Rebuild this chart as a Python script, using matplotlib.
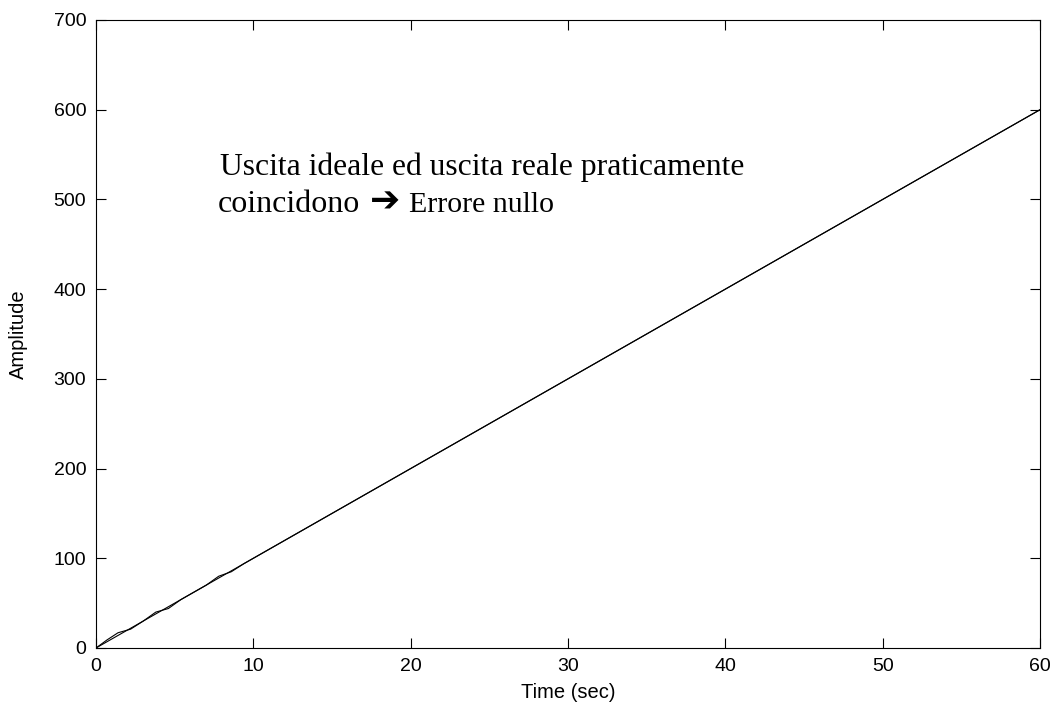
import matplotlib
matplotlib.use("Agg")
import matplotlib.pyplot as plt

# Data
ideal_t = [0, 60]
ideal_y = [0, 600]
real_t = [0, 0.7, 1.4, 2.2, 3.0, 3.8, 4.6, 5.4, 6.2, 7.0, 7.8, 8.6, 9.4, 10.2,
          12, 14, 16, 18, 20, 25, 30, 35, 40, 45, 50, 55, 60]
real_y = [0, 9, 17, 21, 30, 40, 44, 54, 62, 70, 80, 85, 94, 102,
          120, 140, 160, 180, 200, 250, 300, 350, 400, 450, 500, 550, 600]
xticks = [0, 10, 20, 30, 40, 50, 60]
yticks = [0, 100, 200, 300, 400, 500, 600, 700]

fig = plt.figure(figsize=(10.55, 7.11), dpi=100)
ax = fig.add_axes([96/1055, 1-648/711, (1040-96)/1055, (648-20)/711])
ax.plot(ideal_t, ideal_y, color='black', lw=0.8)
ax.plot(real_t, real_y, color='black', lw=0.8)
ax.set_xlim(0, 60)
ax.set_ylim(0, 700)
ax.set_xticks(xticks)
ax.set_yticks(yticks)
ax.tick_params(direction='in', length=7, width=0.8, top=True, right=True,
               labelsize=14, pad=7)
for lab in ax.get_xticklabels() + ax.get_yticklabels():
    lab.set_fontfamily('Liberation Sans')
for s in ax.spines.values():
    s.set_linewidth(0.8)
ax.set_xlabel('Time (sec)', fontsize=14.5, fontfamily='Liberation Sans')
ax.set_ylabel('Amplitude', fontsize=14.5, fontfamily='Liberation Sans')
ax.xaxis.set_label_coords(0.5, -(693 - 648) / 628)
ax.xaxis.label.set_va('center')
ax.yaxis.set_label_coords((18 - 96) / 944, 0.5)
ax.yaxis.label.set_va('center')

serif = ['Liberation Serif', 'DejaVu Serif']
ax.text(7.85, 527, 'Uscita ideale ed uscita reale praticamente',
        fontsize=22.8, family=serif, va='baseline')
ax.text(7.75, 486, 'coincidono',
        fontsize=23, family=serif, va='baseline')
ax.text(17.4, 486, '\u2794',
        fontsize=26, family=['DejaVu Sans'], fontweight='bold', va='baseline')
ax.text(19.9, 486, 'Errore nullo',
        fontsize=21.5, family=serif, va='baseline')

fig.savefig('out.png', dpi=100)
